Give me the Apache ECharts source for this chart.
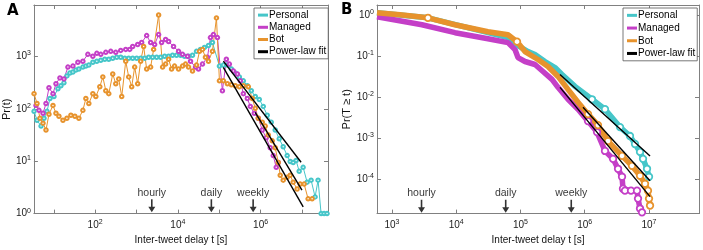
<!DOCTYPE html>
<html>
<head>
<meta charset="utf-8">
<script src="https://cdn.jsdelivr.net/npm/echarts@6/dist/echarts.min.js"></script>
<style>
html,body{margin:0;padding:0;background:#fff;}
#chart{width:703px;height:250px;}
</style>
</head>
<body>
<div id="chart"></div>
<script>
// ---------- Panel A: histogram Pr(t) vs inter-tweet delay (values stored as log10) ----------
const aPersonalLog10T = [0.523,0.595,0.692,0.764,0.836,0.908,1.005,1.101,1.173,1.246,1.318,1.390,1.463,1.535,1.607,1.704,1.776,1.848,1.945,2.041,2.137,2.234,2.330,2.426,2.523,2.619,2.716,2.812,2.908,3.005,3.101,3.197,3.294,3.390,3.487,3.583,3.680,3.776,3.872,3.968,4.065,4.161,4.258,4.354,4.451,4.547,4.643,4.740,4.836,5.005,5.101,5.198,5.294,5.390,5.487,5.583,5.680,5.776,5.872,5.969,6.065,6.161,6.258,6.354,6.451,6.547,6.643,6.716,6.788,6.860,6.933,7.029,7.125,7.222,7.318,7.390,7.463,7.535,7.607];
const aPersonalLog10P = [1.951,1.782,1.670,1.820,1.951,2.195,2.233,2.383,2.439,2.495,2.627,2.683,2.702,2.739,2.758,2.795,2.814,2.833,2.889,2.908,2.927,2.946,2.946,2.964,2.983,2.983,2.964,2.964,2.964,2.964,2.964,2.964,2.983,2.983,2.983,2.983,3.002,3.002,3.021,3.021,3.021,3.002,3.002,3.021,3.096,3.133,3.171,3.208,3.265,2.814,2.833,2.833,2.758,2.683,2.608,2.533,2.439,2.345,2.233,2.176,2.045,1.876,1.745,1.595,1.426,1.276,1.107,0.994,0.976,1.013,0.807,0.882,0.600,0.638,0.319,0.638,0,0,0];

const aManagedLog10T = [0.571,0.643,0.740,0.812,0.884,0.981,1.053,1.149,1.246,1.342,1.463,1.583,1.704,1.824,1.945,2.041,2.137,2.258,2.378,2.499,2.619,2.740,2.836,2.908,3.029,3.125,3.246,3.342,3.439,3.535,3.607,3.704,3.776,3.896,4.017,4.113,4.234,4.306,4.427,4.499,4.595,4.716,4.788,4.860,4.957,5.077,5.173,5.246,5.342,5.439,5.511,5.583,5.680,5.752,5.848,5.945,6.041,6.137,6.234,6.306,6.378,6.427];
const aManagedLog10P = [2.064,1.970,1.914,2.101,2.401,2.289,2.477,2.589,2.570,2.795,2.814,2.889,2.908,3.039,3.002,3.058,3.039,3.077,3.096,3.077,3.114,3.133,3.133,3.189,3.227,3.265,3.396,3.265,3.227,3.415,3.265,3.321,3.283,3.189,3.096,3.039,3.002,2.908,2.795,2.758,2.852,2.983,3.358,3.415,3.358,2.345,2.946,2.852,2.720,2.664,2.533,2.289,2.195,2.045,1.914,1.820,1.595,1.445,1.257,1.107,0.882,0.976];

const aBotLog10T = [0.523,0.595,0.667,0.740,0.812,0.884,0.981,1.053,1.125,1.222,1.318,1.414,1.511,1.607,1.704,1.776,1.848,1.945,2.017,2.113,2.186,2.258,2.330,2.426,2.499,2.571,2.643,2.740,2.812,2.884,2.956,3.029,3.101,3.173,3.246,3.342,3.414,3.535,3.631,3.704,3.776,3.848,3.920,4.017,4.113,4.186,4.258,4.354,4.451,4.523,4.595,4.667,4.740,4.836,4.933,5.005,5.101,5.198,5.294,5.390,5.487,5.583,5.704,5.800,5.872,5.945,6.041,6.113,6.186,6.282,6.354,6.427,6.475,6.547,6.643,6.716,6.788,6.884,6.957,7.053,7.149,7.246];
const aBotLog10P = [2.289,2.101,1.820,1.726,1.595,1.895,2.064,1.914,1.857,1.782,1.820,1.876,1.857,1.820,1.970,2.195,2.101,2.289,2.233,2.420,2.608,2.345,2.289,2.664,2.477,2.570,2.233,2.908,2.608,2.420,2.795,2.477,2.908,3.189,2.758,2.795,3.133,3.790,2.795,2.852,2.946,2.758,2.814,2.758,2.814,2.852,2.795,2.720,2.833,3.096,3.133,2.983,2.908,3.096,3.734,2.533,2.533,2.477,2.458,2.439,2.420,2.439,2.420,2.195,2.008,1.820,1.745,1.670,1.501,1.388,1.257,0.976,0.732,0.638,0.694,0.732,0.600,0.469,0.563,0.563,0.281,0.281];

// power-law fits (endpoints, log10)
const aFitPersonalLog10T = [5.10, 6.98];
const aFitPersonalLog10P = [2.91, 0.98];
const aFitManagedLog10T = [5.10, 7.03];
const aFitManagedLog10P = [2.79, 0.13];
const aFitBotLog10T = [5.87, 7.00];
const aFitBotLog10P = [1.93, 0.45];

// ---------- Panel B: CCDF Pr(T >= t) (values stored as log10) ----------
const bPersonalLog10T = [2.767,3.560,4.494,4.805,4.961,5.117,5.226,5.381,5.537,5.646,5.848,6.113,6.315,6.549,6.704,6.782,6.860,6.907,6.969,7.000];
const bPersonalLog10P = [0.063,-0.058,-0.421,-0.542,-0.736,-0.881,-0.954,-1.123,-1.269,-1.438,-1.729,-2.044,-2.286,-2.722,-2.939,-3.133,-3.327,-3.496,-3.738,-3.932];

const bManagedLog10T = [2.767,3.467,3.981,4.494,4.805,4.914,4.961,5.070,5.226,5.350,5.490,5.584,5.739,5.895,6.051,6.191,6.315,6.440,6.518,6.580,6.595,6.626,6.720,6.813,6.829,6.860,6.891];
const bManagedLog10P = [-0.034,-0.228,-0.421,-0.567,-0.663,-0.833,-1.027,-1.123,-1.196,-1.366,-1.559,-1.753,-2.044,-2.286,-2.576,-2.843,-3.303,-3.496,-3.738,-3.932,-4.223,-4.271,-4.271,-4.271,-4.465,-4.707,-4.800];

const bBotLog10T = [2.767,3.125,3.560,3.981,4.494,4.805,4.946,5.070,5.272,5.428,5.584,5.739,5.895,6.051,6.206,6.362,6.580,6.735,6.860,6.938,6.984,7.000,7.016];
const bBotLog10P = [0.063,0.015,-0.058,-0.228,-0.397,-0.470,-0.639,-0.881,-1.075,-1.245,-1.487,-1.801,-2.116,-2.407,-2.673,-3.061,-3.424,-3.666,-3.908,-4.102,-4.271,-4.465,-4.634];

const bFitPersonalLog10T = [5.615, 7.016];
const bFitPersonalLog10P = [-1.438, -3.424];
const bFitManagedLog10T = [5.615, 7.016];
const bFitManagedLog10P = [-1.753, -4.416];
const bFitBotLog10T = [5.973, 7.016];
const bFitBotLog10P = [-2.237, -4.029];

// axis extents (log10)
const aXRangeLog10 = [0.52, 7.63];
const aYRangeLog10 = [0, 3.98];
const bXRangeLog10 = [2.767, 7.778];
const bYRangeLog10 = [-4.83, 0.254];

// annotation arrows
const markerNames = ['hourly', 'daily', 'weekly'];
const aMarkerLog10T = [3.37, 4.81, 5.82];
const aMarkerLog10P = 0.15;
const bMarkerLog10T = [3.46, 4.77, 5.79];
const bMarkerLog10P = -4.65;

// CCDF points drawn as open circles (sparse head markers + tail)
const bCircleFromLog10T = 6.0;
const bHeadCircleLog10T = [3.560, 4.946];

const legendNames = ['Personal', 'Managed', 'Bot', 'Power-law fit'];

// ---------- building ----------
const FONT = 'Liberation Sans';
const C = {Personal: '#46c6c9', Managed: '#c43fc7', Bot: '#e7932d', 'Power-law fit': '#000000'};
const lg = v => Math.pow(10, v);
function pairs(xs, ys) {
  const n = Math.min(xs.length, ys.length), out = [];
  for (let i = 0; i < n; i++) out.push([lg(xs[i]), lg(ys[i])]);
  return out;
}
function expLabel(v, everyOther) {
  const e = Math.log10(v), r = Math.round(e);
  if (Math.abs(e - r) > 1e-6) return '';
  if (everyOther && r % 2 !== 0) return '';
  return '{b|10}{s|' + r + '}';
}
const rich = {
  b: {fontSize: 10, fontFamily: FONT, color: '#222', lineHeight: 13},
  s: {fontSize: 7, fontFamily: FONT, color: '#222', lineHeight: 7, verticalAlign: 'top'}
};
const axisColor = '#808080';
function logAxis(extra) {
  return Object.assign({
    type: 'log', logBase: 10,
    axisLine: {show: true, lineStyle: {color: axisColor, width: 1}},
    axisTick: {show: true, inside: true, length: 4, lineStyle: {color: axisColor}},
    splitLine: {show: false},
    minorTick: {show: false}
  }, extra);
}
const nameStyle = {fontSize: 10, fontFamily: FONT, color: '#111'};

function histSeries(name, xs, ys) {
  return {
    name, type: 'line', xAxisIndex: 0, yAxisIndex: 0,
    data: pairs(xs, ys),
    symbol: 'emptyCircle', symbolSize: 3.5, showSymbol: true,
    lineStyle: {color: C[name], width: 1},
    itemStyle: {color: C[name], borderWidth: 0.9},
    color: C[name], z: 3
  };
}
function ccdfSeries(name, xs, ys) {
  const data = pairs(xs, ys).map((p, i) => {
    const show = xs[i] >= bCircleFromLog10T || (name === 'Bot' && bHeadCircleLog10T.indexOf(xs[i]) >= 0);
    return show ? {value: p} : {value: p, symbol: 'none'};
  });
  return {
    name, type: 'line', xAxisIndex: 2, yAxisIndex: 2,
    data,
    symbol: 'circle', symbolSize: 6.5, showSymbol: true,
    lineStyle: {color: C[name], width: 5.5},
    itemStyle: {color: '#ffffff', borderColor: C[name], borderWidth: 1.8},
    color: C[name], z: 3
  };
}
function fitSeries(xIdx, yIdx, xs, ys) {
  return {
    name: 'Power-law fit', type: 'line', xAxisIndex: xIdx, yAxisIndex: yIdx,
    data: pairs(xs, ys), symbol: 'none',
    lineStyle: {color: '#000', width: 1.4}, color: '#000', z: 5
  };
}
function arrowSeries(xIdx, yIdx, xs, yLog) {
  return {
    type: 'scatter', xAxisIndex: xIdx, yAxisIndex: yIdx, silent: true,
    symbol: 'path://M2.7,0 L4.3,0 L4.3,8 L7,8 L3.5,14 L0,8 L2.7,8 Z',
    symbolSize: [7, 13], symbolKeepAspect: false,
    itemStyle: {color: '#000'},
    label: {show: true, position: 'top', distance: 1, formatter: p => p.name,
      fontSize: 10.5, fontFamily: FONT, color: '#000'},
    data: markerNames.map((n, i) => ({name: n, value: [lg(xs[i]), lg(yLog)]})),
    z: 6
  };
}
function legendCfg(left, lineH) {
  return {
    left, top: 8, orient: 'vertical', icon: 'rect',
    itemWidth: 10, itemHeight: 3, itemGap: 0,
    padding: [1, 2, 1, 4],
    borderColor: '#555', borderWidth: 0.8, backgroundColor: '#fff',
    textStyle: {fontSize: 10, fontFamily: FONT, color: '#000', lineHeight: lineH, padding: [0, 0, 0, -4]},
    data: legendNames.map(n => ({name: n, itemStyle: {color: C[n], borderWidth: 0}})),
    z: 10
  };
}

const option = {
  animation: false,
  backgroundColor: '#fff',
  title: [
    {text: 'A', left: 7, top: 4, padding: 0, textStyle: {fontSize: 15, fontWeight: 900, fontFamily: 'DejaVu Sans', color: '#000'}},
    {text: 'B', left: 341, top: 3, padding: 0, textStyle: {fontSize: 15, fontWeight: 900, fontFamily: 'DejaVu Sans', color: '#000'}}
  ],
  legend: [legendCfg(254, 12.2), legendCfg(623, 12.7)],
  grid: [
    {left: 33, top: 5, width: 295, height: 212, show: false},
    {left: 377, top: 5, width: 322, height: 210, show: false}
  ],
  xAxis: [
    logAxis({gridIndex: 0, position: 'bottom', min: lg(aXRangeLog10[0]), max: lg(aXRangeLog10[1]),
      axisLabel: {formatter: v => expLabel(v, true), rich, margin: 5},
      name: 'Inter-tweet delay t [s]', nameLocation: 'middle', nameGap: 18, nameTextStyle: nameStyle}),
    logAxis({gridIndex: 0, position: 'top', min: lg(aXRangeLog10[0]), max: lg(aXRangeLog10[1]), axisLabel: {show: false}}),
    logAxis({gridIndex: 1, position: 'bottom', min: lg(bXRangeLog10[0]), max: lg(bXRangeLog10[1]),
      axisLabel: {formatter: v => expLabel(v, false), rich, margin: 5},
      name: 'Inter-tweet delay t [s]', nameLocation: 'middle', nameGap: 18, nameTextStyle: nameStyle}),
    logAxis({gridIndex: 1, position: 'top', min: lg(bXRangeLog10[0]), max: lg(bXRangeLog10[1]), axisLabel: {show: false}})
  ],
  yAxis: [
    logAxis({gridIndex: 0, position: 'left', min: lg(aYRangeLog10[0]), max: lg(aYRangeLog10[1]),
      axisLabel: {formatter: v => expLabel(v, false), rich, margin: 3},
      name: 'Pr(t)', nameLocation: 'middle', nameGap: 21, nameTextStyle: {fontSize: 11, fontFamily: FONT, color: '#111'}}),
    logAxis({gridIndex: 0, position: 'right', min: lg(aYRangeLog10[0]), max: lg(aYRangeLog10[1]), axisLabel: {show: false}}),
    logAxis({gridIndex: 1, position: 'left', min: lg(bYRangeLog10[0]), max: lg(bYRangeLog10[1]),
      axisLabel: {formatter: v => expLabel(v, false), rich, margin: 3},
      name: 'Pr(T \u2265 t)', nameLocation: 'middle', nameGap: 20, nameTextStyle: {fontSize: 11, fontFamily: FONT, color: '#111'}}),
    logAxis({gridIndex: 1, position: 'right', min: lg(bYRangeLog10[0]), max: lg(bYRangeLog10[1]), axisLabel: {show: false}})
  ],
  series: [
    histSeries('Personal', aPersonalLog10T, aPersonalLog10P),
    histSeries('Managed', aManagedLog10T, aManagedLog10P),
    histSeries('Bot', aBotLog10T, aBotLog10P),
    fitSeries(0, 0, aFitPersonalLog10T, aFitPersonalLog10P),
    fitSeries(0, 0, aFitManagedLog10T, aFitManagedLog10P),
    fitSeries(0, 0, aFitBotLog10T, aFitBotLog10P),
    arrowSeries(0, 0, aMarkerLog10T, aMarkerLog10P),
    ccdfSeries('Personal', bPersonalLog10T, bPersonalLog10P),
    ccdfSeries('Managed', bManagedLog10T, bManagedLog10P),
    ccdfSeries('Bot', bBotLog10T, bBotLog10P),
    fitSeries(2, 2, bFitPersonalLog10T, bFitPersonalLog10P),
    fitSeries(2, 2, bFitManagedLog10T, bFitManagedLog10P),
    fitSeries(2, 2, bFitBotLog10T, bFitBotLog10P),
    arrowSeries(2, 2, bMarkerLog10T, bMarkerLog10P)
  ]
};
const chart = echarts.init(document.getElementById('chart'), null, {renderer: 'canvas'});
chart.setOption(option);
</script>
</body>
</html>
